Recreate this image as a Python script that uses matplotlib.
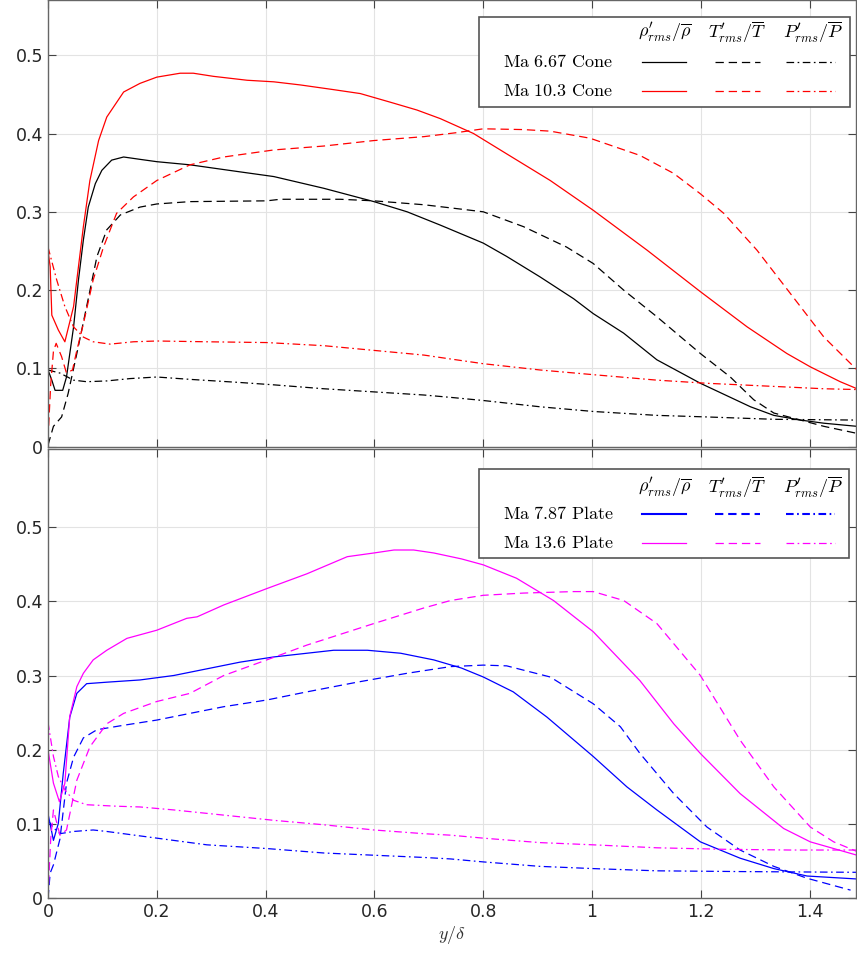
import matplotlib
matplotlib.use("Agg")
import matplotlib.pyplot as plt
from matplotlib.lines import Line2D
from matplotlib.patches import Rectangle

# ---- data ----
# Ma 6.67 cone
cone667_rho_x = [0, 0.007, 0.013, 0.027, 0.034, 0.047, 0.056, 0.065, 0.074, 0.087, 0.099, 0.117, 0.139,
                 0.169, 0.2, 0.261, 0.353, 0.415, 0.507, 0.599, 0.66, 0.721, 0.8, 0.843, 0.904, 0.966,
                 1.002, 1.058, 1.119, 1.199, 1.291, 1.334, 1.383, 1.426, 1.487]
cone667_rho_y = [0.098, 0.085, 0.072, 0.072, 0.089, 0.153, 0.213, 0.264, 0.306, 0.336, 0.353, 0.366, 0.370,
                 0.367, 0.364, 0.360, 0.351, 0.345, 0.330, 0.313, 0.300, 0.283, 0.260, 0.243, 0.217, 0.189,
                 0.170, 0.145, 0.111, 0.081, 0.051, 0.040, 0.034, 0.030, 0.026]
cone667_T_x = [0, 0.01, 0.025, 0.037, 0.053, 0.071, 0.09, 0.108, 0.133, 0.169, 0.2, 0.261, 0.402, 0.427,
               0.537, 0.599, 0.691, 0.74, 0.8, 0.874, 0.953, 1.002, 1.058, 1.119, 1.199, 1.254, 1.297,
               1.334, 1.383, 1.426, 1.487]
cone667_T_y = [0.002, 0.026, 0.038, 0.068, 0.119, 0.179, 0.243, 0.277, 0.296, 0.306, 0.310, 0.313, 0.314,
               0.316, 0.316, 0.314, 0.309, 0.305, 0.300, 0.281, 0.255, 0.234, 0.200, 0.166, 0.119, 0.089,
               0.060, 0.043, 0.034, 0.026, 0.017]
cone667_P_x = [0, 0.022, 0.047, 0.071, 0.108, 0.151, 0.2, 0.261, 0.353, 0.415, 0.507, 0.599, 0.691, 0.74,
               0.8, 0.904, 1.002, 1.119, 1.211, 1.334, 1.487]
cone667_P_y = [0.098, 0.094, 0.085, 0.083, 0.084, 0.087, 0.089, 0.086, 0.082, 0.079, 0.074, 0.070, 0.066,
               0.063, 0.059, 0.051, 0.045, 0.040, 0.038, 0.035, 0.034]

# Ma 10.3 cone
cone103_rho_x = [0, 0.002, 0.004, 0.007, 0.019, 0.031, 0.047, 0.065, 0.077, 0.093, 0.108, 0.139, 0.169,
                 0.2, 0.243, 0.267, 0.304, 0.366, 0.415, 0.464, 0.525, 0.574, 0.629, 0.678, 0.721, 0.782,
                 0.843, 0.923, 1.002, 1.101, 1.199, 1.285, 1.358, 1.401, 1.456, 1.487]
cone103_rho_y = [0.25, 0.24, 0.23, 0.168, 0.149, 0.134, 0.179, 0.281, 0.340, 0.391, 0.421, 0.453, 0.464,
                 0.472, 0.477, 0.477, 0.473, 0.468, 0.466, 0.462, 0.456, 0.451, 0.440, 0.430, 0.419, 0.400,
                 0.374, 0.340, 0.302, 0.251, 0.198, 0.153, 0.119, 0.102, 0.083, 0.074]
cone103_T_x = [0, 0.005, 0.01, 0.015, 0.025, 0.034, 0.045, 0.053, 0.065, 0.083, 0.102, 0.126, 0.157, 0.2,
               0.261, 0.323, 0.415, 0.507, 0.599, 0.691, 0.75, 0.8, 0.874, 0.923, 0.996, 1.088, 1.15,
               1.199, 1.242, 1.303, 1.364, 1.426, 1.487]
cone103_T_y = [0.01, 0.08, 0.122, 0.132, 0.115, 0.094, 0.098, 0.123, 0.157, 0.213, 0.255, 0.298, 0.319,
               0.340, 0.360, 0.370, 0.379, 0.384, 0.391, 0.396, 0.401, 0.406, 0.405, 0.403, 0.394, 0.372,
               0.349, 0.323, 0.298, 0.251, 0.196, 0.140, 0.098]
cone103_P_x = [0, 0.016, 0.031, 0.047, 0.065, 0.083, 0.114, 0.157, 0.2, 0.292, 0.402, 0.507, 0.599,
               0.691, 0.74, 0.8, 0.904, 1.002, 1.119, 1.211, 1.334, 1.426, 1.487]
cone103_P_y = [0.255, 0.213, 0.179, 0.153, 0.140, 0.134, 0.131, 0.134, 0.135, 0.134, 0.133, 0.129, 0.123,
               0.117, 0.112, 0.106, 0.098, 0.092, 0.085, 0.081, 0.077, 0.074, 0.073]

# Ma 7.87 plate
plate787_rho_x = [0, 0.01, 0.019, 0.028, 0.04, 0.053, 0.071, 0.108, 0.169, 0.231, 0.292, 0.353, 0.415,
                  0.476, 0.525, 0.587, 0.648, 0.709, 0.76, 0.8, 0.855, 0.917, 1.002, 1.064, 1.119, 1.199,
                  1.272, 1.334, 1.395, 1.487]
plate787_rho_y = [0.114, 0.078, 0.101, 0.168, 0.244, 0.276, 0.289, 0.291, 0.294, 0.300, 0.309, 0.318,
                  0.325, 0.330, 0.334, 0.334, 0.330, 0.321, 0.310, 0.298, 0.278, 0.244, 0.191, 0.150,
                  0.119, 0.076, 0.054, 0.040, 0.030, 0.026]
plate787_T_x = [0, 0.004, 0.01, 0.022, 0.034, 0.047, 0.065, 0.09, 0.139, 0.2, 0.261, 0.323, 0.402, 0.476,
                0.568, 0.66, 0.74, 0.8, 0.843, 0.923, 1.002, 1.052, 1.088, 1.15, 1.211, 1.272, 1.334,
                1.395, 1.475]
plate787_T_y = [0.0, 0.034, 0.045, 0.080, 0.155, 0.190, 0.216, 0.227, 0.233, 0.240, 0.249, 0.258, 0.267,
                0.278, 0.291, 0.303, 0.312, 0.314, 0.313, 0.298, 0.262, 0.231, 0.195, 0.141, 0.096,
                0.065, 0.043, 0.027, 0.011]
plate787_P_x = [0, 0.01, 0.022, 0.047, 0.083, 0.108, 0.2, 0.292, 0.402, 0.507, 0.599, 0.691, 0.74, 0.8,
                0.904, 1.002, 1.119, 1.272, 1.487]
plate787_P_y = [0.105, 0.095, 0.087, 0.090, 0.092, 0.090, 0.081, 0.072, 0.067, 0.061, 0.058, 0.055,
                0.053, 0.049, 0.043, 0.040, 0.037, 0.036, 0.035]

# Ma 13.6 plate
plate136_rho_x = [0, 0.01, 0.021, 0.031, 0.04, 0.053, 0.065, 0.083, 0.108, 0.145, 0.2, 0.255, 0.274,
                  0.323, 0.402, 0.476, 0.55, 0.599, 0.636, 0.672, 0.709, 0.76, 0.8, 0.861, 0.929, 1.002,
                  1.088, 1.15, 1.199, 1.272, 1.352, 1.401, 1.444, 1.487]
plate136_rho_y = [0.2, 0.155, 0.130, 0.155, 0.245, 0.285, 0.303, 0.321, 0.334, 0.350, 0.361, 0.377,
                  0.379, 0.395, 0.417, 0.437, 0.460, 0.465, 0.469, 0.469, 0.465, 0.457, 0.449, 0.431,
                  0.401, 0.359, 0.293, 0.235, 0.195, 0.141, 0.094, 0.076, 0.067, 0.058]
plate136_T_x = [0, 0.005, 0.01, 0.022, 0.034, 0.053, 0.077, 0.108, 0.139, 0.2, 0.261, 0.323, 0.402, 0.476,
                0.599, 0.691, 0.74, 0.8, 0.874, 0.966, 1.002, 1.058, 1.119, 1.199, 1.272, 1.334, 1.401,
                1.444, 1.487]
plate136_T_y = [0.002, 0.08, 0.119, 0.085, 0.092, 0.159, 0.204, 0.235, 0.249, 0.265, 0.276, 0.300, 0.321,
                0.341, 0.370, 0.391, 0.401, 0.408, 0.411, 0.413, 0.413, 0.401, 0.370, 0.300, 0.213, 0.150,
                0.096, 0.076, 0.063]
plate136_P_x = [0, 0.01, 0.019, 0.031, 0.047, 0.071, 0.126, 0.169, 0.231, 0.323, 0.415, 0.507, 0.599,
                0.691, 0.74, 0.8, 0.904, 1.002, 1.119, 1.242, 1.364, 1.487]
plate136_P_y = [0.237, 0.191, 0.164, 0.146, 0.132, 0.126, 0.124, 0.123, 0.119, 0.112, 0.105, 0.099,
                0.092, 0.087, 0.085, 0.081, 0.075, 0.072, 0.068, 0.066, 0.065, 0.065]

top_labels = ["Ma 6.67 Cone", "Ma 10.3 Cone"]
bottom_labels = ["Ma 7.87 Plate", "Ma 13.6 Plate"]
column_headers = [r"$\rho^{\prime}_{rms}/\overline{\rho}$", r"$T^{\prime}_{rms}/\overline{T}$",
                  r"$P^{\prime}_{rms}/\overline{P}$"]
x_ticks = [0, 0.2, 0.4, 0.6, 0.8, 1, 1.2, 1.4]
y_ticks = [0, 0.1, 0.2, 0.3, 0.4, 0.5]

plt.rcParams["mathtext.fontset"] = "cm"
plt.rcParams["lines.scale_dashes"] = False

W, H = 857, 957
DASH = (0, (6, 3.5))
DASHDOT = (0, (5.5, 2.5, 1.2, 2.5))
styles = ["-", DASH, DASHDOT]

fig = plt.figure(figsize=(W / 100, H / 100), dpi=100)


def px_axes(left, top, right, bottom):
    return fig.add_axes([left / W, 1 - bottom / H, (right - left) / W, (bottom - top) / H])


def style_axes(ax, ymax, show_xlabels):
    ax.set_xlim(0, 1.485)
    ax.set_ylim(0, ymax)
    ax.set_xticks(x_ticks)
    ax.set_yticks(y_ticks)
    ax.set_xticklabels([f"{t:g}" for t in x_ticks] if show_xlabels else [])
    ax.set_yticklabels([f"{t:g}" for t in y_ticks])
    ax.grid(True, color="#e3e3e3", linewidth=0.8)
    ax.set_axisbelow(True)
    ax.tick_params(direction="in", length=6, width=0.8, colors="#444444",
                   labelcolor="#262626", labelsize=12.5, top=True, right=True)
    for s in ax.spines.values():
        s.set_color("#666666")
        s.set_linewidth(1.0)


def draw_legend(box, rows, colors, widths, labels):
    # box = (left, top, right, bottom) in figure pixels; rows = header/row y positions
    l, t, r, b = box
    fig.add_artist(Rectangle((l / W, 1 - b / H), (r - l) / W, (b - t) / H, transform=fig.transFigure,
                             facecolor="white", edgecolor="#555555", linewidth=1.2, zorder=5))
    for cx, head in zip([665, 737, 813], column_headers):
        fig.text(cx / W, 1 - rows[0] / H, head, ha="center", va="center", fontsize=13, zorder=6)
    segs = [(642, 686), (715, 760), (786, 835)]
    for ry, lab, c, lw in zip(rows[1:], labels, colors, widths):
        fig.text(503 / W, 1 - ry / H, r"$\mathrm{" + lab.replace(" ", r"\ ") + "}$",
                 ha="left", va="center", fontsize=13, zorder=6)
        for (x0, x1), ls in zip(segs, styles):
            fig.add_artist(Line2D([x0 / W, x1 / W], [1 - ry / H, 1 - ry / H], transform=fig.transFigure,
                                  color=c, linestyle=ls, linewidth=lw, zorder=6))


ax1 = px_axes(48, 0, 856, 446.7)
ax2 = px_axes(48, 449, 856, 898.3)

lw = 0.9
top_series = [
    ("k", [(cone667_rho_x, cone667_rho_y), (cone667_T_x, cone667_T_y), (cone667_P_x, cone667_P_y)]),
    ("#ff0000", [(cone103_rho_x, cone103_rho_y), (cone103_T_x, cone103_T_y), (cone103_P_x, cone103_P_y)]),
]
bottom_series = [
    ("#0000ff", [(plate787_rho_x, plate787_rho_y), (plate787_T_x, plate787_T_y),
                 (plate787_P_x, plate787_P_y)]),
    ("#ff00ff", [(plate136_rho_x, plate136_rho_y), (plate136_T_x, plate136_T_y),
                 (plate136_P_x, plate136_P_y)]),
]
for ax, series in [(ax1, top_series), (ax2, bottom_series)]:
    for color, curves in series:
        for (xs, ys), ls in zip(curves, styles):
            ax.plot(xs, ys, color=color, linestyle=ls, linewidth=lw)

style_axes(ax1, 0.5705, False)
style_axes(ax2, 0.605, True)
ax2.set_xlabel(r"$y/\delta$", fontsize=13, color="#333333", labelpad=2)

draw_legend((479, 17, 850, 107), [32, 62, 91], ["k", "#ff0000"], [0.9, 0.9], top_labels)
draw_legend((479, 469, 849, 558), [487, 514, 543], ["#0000ff", "#ff00ff"], [1.5, 0.9], bottom_labels)

fig.savefig("out.png", dpi=100)
